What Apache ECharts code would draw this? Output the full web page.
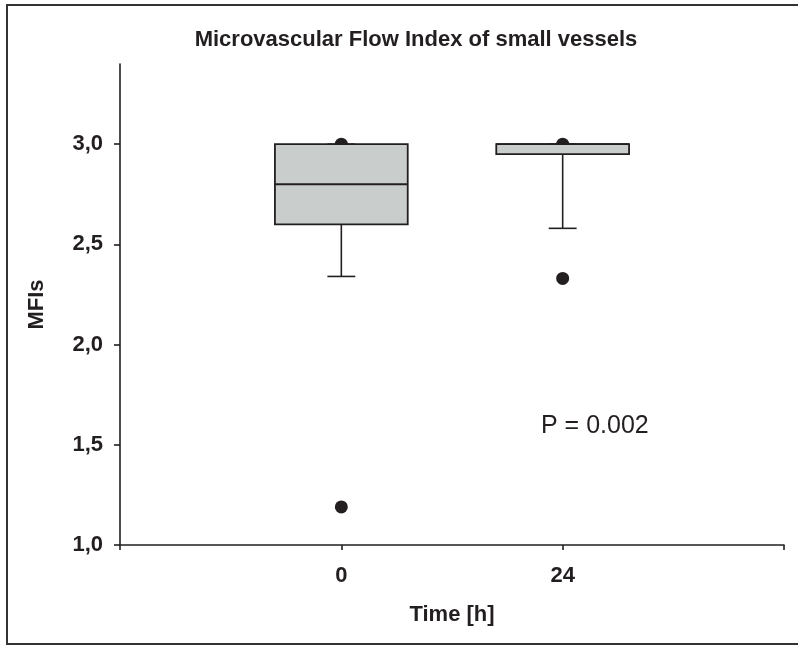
<!DOCTYPE html>
<html>
<head>
<meta charset="utf-8">
<script src="https://cdn.jsdelivr.net/npm/echarts@6/dist/echarts.min.js"></script>
<style>
html,body{margin:0;padding:0;background:#fff;}
#chart{width:798px;height:646px;}
</style>
</head>
<body>
<div id="chart"></div>
<script>
// ---- data ----
const timeLabels = ['0', '24'];
const whiskerLow = [2.34, 2.58];
const q1 = [2.60, 2.95];
const median = [2.80, 3.00];
const q3 = [3.00, 3.00];
const whiskerHigh = [3.00, 3.00];
const outliersT0 = [3.00, 1.19];
const outliersT24 = [3.00, 2.33];
const yTicks = [1.0, 1.5, 2.0, 2.5, 3.0];
const pText = 'P = 0.002';

// ---- build ----
const axisCats = [''].concat(timeLabels, ['']);
const boxData = timeLabels.map((t, i) => [i + 1, whiskerLow[i], q1[i], median[i], q3[i], whiskerHigh[i]]);
const outlierData = [];
outliersT0.forEach(v => outlierData.push([1, v]));
outliersT24.forEach(v => outlierData.push([2, v]));

const FONT = '"Liberation Sans", Arial, Helvetica, sans-serif';
const INK = '#231f20';

const chart = echarts.init(document.getElementById('chart'), null, {renderer: 'canvas'});

function renderBox(params, api) {
  const x = api.value(0);
  const lo = api.coord([x, api.value(1)]);
  const b1 = api.coord([x, api.value(2)]);
  const md = api.coord([x, api.value(3)]);
  const b3 = api.coord([x, api.value(4)]);
  const hi = api.coord([x, api.value(5)]);
  const band = api.size([1, 0])[0];
  const hw = band * 0.3;
  const cw = band * 0.063;
  const cx = lo[0];
  const lineStyle = {stroke: INK, lineWidth: 1.6, fill: null};
  const children = [
    {type: 'line', shape: {x1: cx, y1: b1[1], x2: cx, y2: lo[1]}, style: lineStyle},
    {type: 'line', shape: {x1: cx - cw, y1: lo[1], x2: cx + cw, y2: lo[1]}, style: lineStyle},
    {type: 'line', shape: {x1: cx, y1: b3[1], x2: cx, y2: hi[1]}, style: lineStyle},
    {type: 'line', shape: {x1: cx - cw, y1: hi[1], x2: cx + cw, y2: hi[1]}, style: lineStyle},
    {type: 'rect', shape: {x: cx - hw, y: b3[1], width: hw * 2, height: b1[1] - b3[1]},
      style: {fill: '#c9cdcc', stroke: INK, lineWidth: 1.8}},
    {type: 'line', shape: {x1: cx - hw, y1: md[1], x2: cx + hw, y2: md[1]}, style: {stroke: INK, lineWidth: 1.8}}
  ];
  return {type: 'group', children: children};
}

const option = {
  animation: false,
  backgroundColor: '#fff',
  title: {
    text: 'Microvascular Flow Index of small vessels',
    left: 411, top: 24, textAlign: 'center',
    textStyle: {fontFamily: FONT, fontSize: 22, fontWeight: 'bold', color: INK}
  },
  grid: {left: 120, right: 14, top: 64, bottom: 101},
  xAxis: {
    type: 'category',
    data: axisCats,
    boundaryGap: false,
    name: 'Time [h]',
    nameLocation: 'middle',
    nameGap: 59,
    nameTextStyle: {fontFamily: FONT, fontSize: 22, fontWeight: 'bold', color: INK},
    axisLine: {lineStyle: {color: INK, width: 1.6}},
    axisTick: {show: true, length: 5, interval: 0, lineStyle: {color: INK, width: 1.6}},
    axisLabel: {interval: 0, margin: 20, fontFamily: FONT, fontSize: 22, fontWeight: 'bold', color: INK},
    splitLine: {show: false}
  },
  yAxis: {
    type: 'value',
    min: 1.0, max: 3.4, interval: 0.5,
    name: 'MFIs',
    nameLocation: 'middle',
    nameGap: 72,
    nameRotate: 90,
    nameTextStyle: {fontFamily: FONT, fontSize: 22, fontWeight: 'bold', color: INK},
    axisLine: {show: true, lineStyle: {color: INK, width: 1.6}},
    axisTick: {show: true, length: 6, customValues: yTicks, lineStyle: {color: INK, width: 1.6}},
    axisLabel: {
      customValues: yTicks,
      margin: 17, fontFamily: FONT, fontSize: 22, fontWeight: 'bold', color: INK,
      formatter: v => v.toFixed(1).replace('.', ',')
    },
    splitLine: {show: false}
  },
  series: [
    {
      type: 'scatter',
      data: outlierData,
      symbol: 'circle',
      symbolSize: 13,
      itemStyle: {color: INK, opacity: 1},
      z: 1,
      silent: true
    },
    {
      type: 'custom',
      data: boxData,
      renderItem: renderBox,
      encode: {x: 0, y: [1, 2, 3, 4, 5]},
      z: 3,
      silent: true
    }
  ],
  graphic: [
    {
      type: 'rect', silent: true,
      shape: {x: 7, y: 5, width: 800, height: 639},
      style: {fill: null, stroke: '#333', lineWidth: 2}
    },
    {
      type: 'text', left: 541, top: 414, silent: true,
      style: {text: pText, fontFamily: FONT, fontSize: 25, fill: INK}
    }
  ]
};
chart.setOption(option);
</script>
</body>
</html>
